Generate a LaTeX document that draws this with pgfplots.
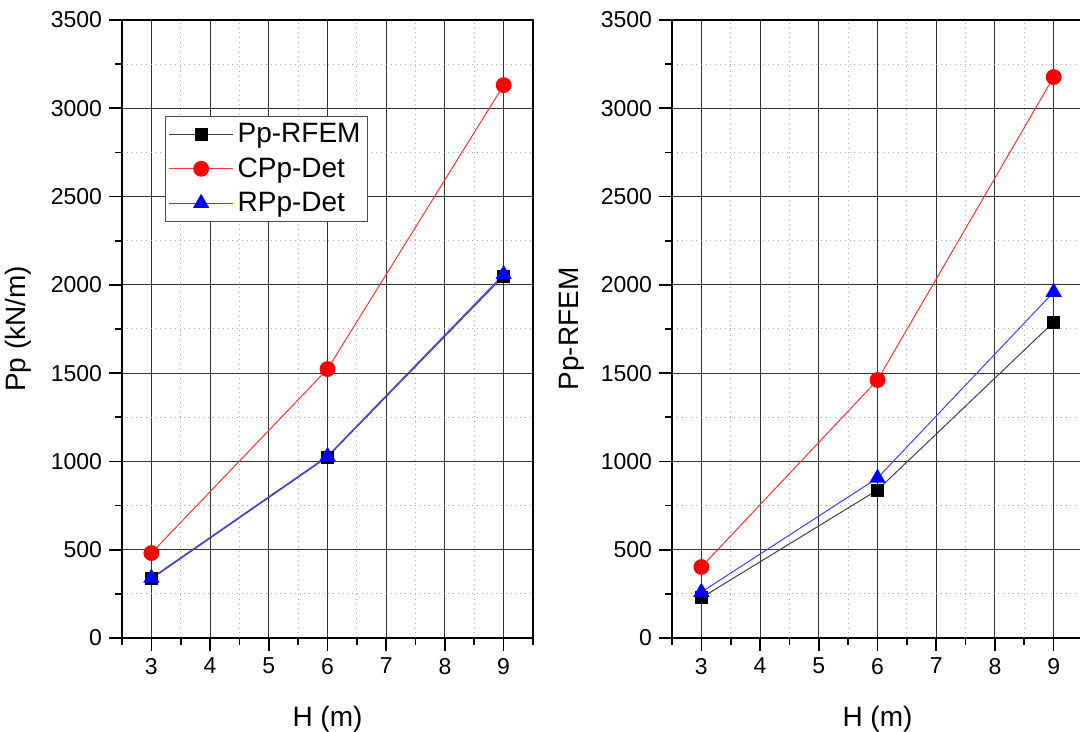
\documentclass[border=0pt]{standalone}
\usepackage{pgfplots}
\pgfplotsset{compat=1.18}
\usepackage{fontspec}
\setmainfont{Liberation Sans}
\begin{document}
\begin{tikzpicture}
\pgfplotsset{
  panel/.style={
    scale only axis, width=205.5pt, height=309pt,
    xmin=2.5, xmax=9.5, ymin=0, ymax=3500,
    xtick={3,4,5,6,7,8,9}, minor xtick={2.5,3.5,4.5,5.5,6.5,7.5,8.5,9.5},
    ytick={0,500,1000,1500,2000,2500,3000,3500},
    minor ytick={250,750,1250,1750,2250,2750,3250},
    tick pos=left, tick align=outside,
    major tick length=6.5pt, minor tick length=3.5pt,
    every tick/.style={black, line width=0.8pt},
    axis line style={line width=1pt},
    grid=both,
    major grid style={black!80, line width=0.5pt},
    minor grid style={black!35, dotted, line width=0.5pt},
    /pgf/number format/assume math mode=true,
    /pgf/number format/1000 sep={},
    ticklabel style={font=\fontsize{11.5}{13}\selectfont},
    label style={font=\fontsize{14}{16}\selectfont},
    xlabel={H (m)},
    xlabel style={yshift=-9pt},
  },
  s1/.style={black!75, line width=0.5pt, mark=square*, mark size=3pt, mark options={fill=black, draw=black}},
  s2/.style={red!80, line width=0.5pt, mark=*, mark size=3.7pt, mark options={fill=red, draw=red}},
  s3/.style={blue!75, line width=0.5pt, mark=triangle*, mark size=4.2pt, mark options={fill=blue, draw=blue}},
}
\begin{axis}[panel, at={(61pt,47pt)}, anchor=south west,
  ylabel={Pp (kN/m)}, ylabel style={yshift=3pt},
  legend style={at={(0.105,0.845)}, anchor=north west, draw=black!70, line width=0.5pt,
    font=\fontsize{14}{17}\selectfont, row sep=2pt, inner sep=1.5pt},
  legend cell align=left,
  legend image code/.code={\draw[#1] (0pt,0pt) -- (16pt,0pt) (16pt,0pt) -- (32pt,0pt); \draw[#1, only marks] plot coordinates {(16pt,0pt)};},
  ]
\addplot[s1] coordinates {(3,335) (6,1025) (9,2050)};
\addlegendentry{Pp-RFEM}
\addplot[s2] coordinates {(3,481) (6,1523) (9,3131)};
\addlegendentry{CPp-Det}
\addplot[s3] coordinates {(3,340) (6,1030) (9,2060)};
\addlegendentry{RPp-Det}
\end{axis}
\begin{axis}[panel, at={(336pt,47pt)}, anchor=south west,
  ylabel={Pp-RFEM}, ylabel style={yshift=1.5pt}]
\addplot[s1] coordinates {(3,228) (6,838) (9,1789)};
\addplot[s2] coordinates {(3,402) (6,1461) (9,3177)};
\addplot[s3] coordinates {(3,260) (6,906) (9,1959)};
\end{axis}
\pgfresetboundingbox
\useasboundingbox (0,0) rectangle (540pt,366pt);
\end{tikzpicture}
\end{document}
